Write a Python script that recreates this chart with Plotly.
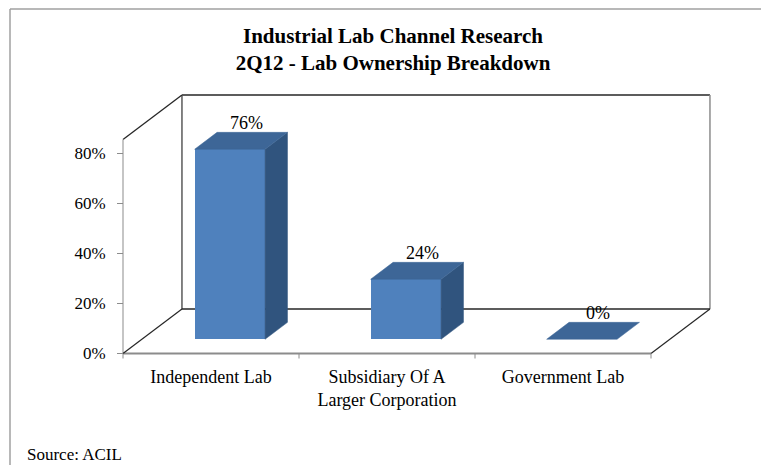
import plotly.graph_objects as go

# ---- data -------------------------------------------------------------
categories = ["Independent Lab", "Subsidiary Of A<br>Larger Corporation", "Government Lab"]
shares = [76, 24, 0]                      # percent of labs
y_ticks = [0, 20, 40, 60, 80]
y_tick_text = ["0%", "20%", "40%", "60%", "80%"]

# ---- pseudo-3D geometry (data units) ----------------------------------
W, H = 761, 465
PX_X = 176.0          # pixels per category unit
PX_Y = 2.5            # pixels per percent
DEPTH_X = 0.335       # depth vector, horizontal part (category units)
DEPTH_Y = 17.8        # depth vector, vertical part (percent units)
WALL = 85.6           # wall height (percent units)
BAR_W = 0.40          # bar width (category units)
D0, D1 = 0.32, 0.70   # bar front/back depth fractions
N = len(categories)

ML, MR, MT, MB = 118, 46, 93, 105
plot_w = W - ML - MR
plot_h = H - MT - MB
x_min = -5 / PX_X
x_max = x_min + plot_w / PX_X
y_max = WALL + DEPTH_Y + 2 / PX_Y
y_min = y_max - plot_h / PX_Y

FRONT = "#4F81BD"
TOP = "#3D6697"
SIDE = "#30547E"
DARK = "#262626"
GRAY = "#8C8C8C"
FONT = "Liberation Serif"

fig = go.Figure()

# front faces as real bars, shifted into the depth of the floor
centers = [i + 0.5 for i in range(N)]
fig.add_trace(go.Bar(
    x=[c + D0 * DEPTH_X for c in centers],
    y=shares,
    base=[D0 * DEPTH_Y] * N,
    width=BAR_W,
    marker=dict(color=FRONT, line=dict(width=0)),
    hoverinfo="skip",
    showlegend=False,
))

# side and top faces
for c, v in zip(centers, shares):
    l, r = c - BAR_W / 2, c + BAR_W / 2
    if v > 0:
        fig.add_trace(go.Scatter(
            x=[r + D0 * DEPTH_X, r + D1 * DEPTH_X, r + D1 * DEPTH_X, r + D0 * DEPTH_X, r + D0 * DEPTH_X],
            y=[D0 * DEPTH_Y, D1 * DEPTH_Y, v + D1 * DEPTH_Y, v + D0 * DEPTH_Y, D0 * DEPTH_Y],
            mode="lines", fill="toself", fillcolor=SIDE,
            line=dict(color=SIDE, width=0.5), hoverinfo="skip", showlegend=False,
        ))
    fig.add_trace(go.Scatter(
        x=[l + D0 * DEPTH_X, r + D0 * DEPTH_X, r + D1 * DEPTH_X, l + D1 * DEPTH_X, l + D0 * DEPTH_X],
        y=[v + D0 * DEPTH_Y, v + D0 * DEPTH_Y, v + D1 * DEPTH_Y, v + D1 * DEPTH_Y, v + D0 * DEPTH_Y],
        mode="lines", fill="toself", fillcolor=TOP,
        line=dict(color=TOP, width=0.5), hoverinfo="skip", showlegend=False,
    ))
    fig.add_annotation(
        x=c + 0.6 * DEPTH_X, y=v + 16.4, text=f"{v}%", showarrow=False,
        xanchor="center", yanchor="middle",
        font=dict(family=FONT, size=18, color="black"),
    )

# ---- walls and floor outline ------------------------------------------
def seg(x0, y0, x1, y1, color, width):
    fig.add_shape(type="line", x0=x0, y0=y0, x1=x1, y1=y1, xref="x", yref="y",
                  line=dict(color=color, width=width), layer="below")

bx, by = DEPTH_X, DEPTH_Y
# back wall
seg(bx, by + WALL, N + bx, by + WALL, DARK, 1.3)
seg(bx, by, bx, by + WALL, "#5a5a5a", 1.5)
seg(N + bx, by, N + bx, by + WALL, GRAY, 1.5)
seg(bx, by, N + bx, by, DARK, 1.3)
# left wall
seg(0, WALL, bx, by + WALL, DARK, 1.3)
seg(0, 0, 0, WALL, "#a6a6a6", 1.3)
# floor
seg(0, 0, N, 0, GRAY, 2)
seg(0, 0, bx, by, DARK, 1.2)
seg(N, 0, N + bx, by, DARK, 1.2)
# category boundary ticks
for k in range(N + 1):
    seg(k, 0, k, -2.0, GRAY, 1)

# outer chart border
def px_to_paper_x(px):
    return (px - ML) / plot_w

def px_to_paper_y(py):
    return 1 - (py - MT) / plot_h

fig.add_shape(type="line", xref="paper", yref="paper",
              x0=px_to_paper_x(10), y0=px_to_paper_y(9), x1=px_to_paper_x(W + 5), y1=px_to_paper_y(9),
              line=dict(color="#a0a0a0", width=1.5))
fig.add_shape(type="line", xref="paper", yref="paper",
              x0=px_to_paper_x(10), y0=px_to_paper_y(9), x1=px_to_paper_x(10), y1=px_to_paper_y(H + 5),
              line=dict(color="#a0a0a0", width=1.5))

# source note
fig.add_annotation(
    xref="paper", yref="paper", x=px_to_paper_x(25), y=px_to_paper_y(454),
    text="Source: ACIL", showarrow=False, xanchor="left", yanchor="middle",
    font=dict(family=FONT, size=17, color="black"),
)

fig.update_layout(
    width=W, height=H,
    margin=dict(l=ML, r=MR, t=MT, b=MB, pad=0),
    paper_bgcolor="white", plot_bgcolor="white",
    title=dict(
        text="<b>Industrial Lab Channel Research<br>2Q12 - Lab Ownership Breakdown</b>",
        x=393 / W, xanchor="center", y=1 - 43 / H, yanchor="middle",
        font=dict(family=FONT, size=21, color="black"),
    ),
    xaxis=dict(
        range=[x_min, x_max], showgrid=False, zeroline=False, showline=False,
        tickvals=centers, ticktext=categories, ticks="",
        ticklabelstandoff=4,
        tickfont=dict(family=FONT, size=18, color="black"),
    ),
    yaxis=dict(
        range=[y_min, y_max], showgrid=False, zeroline=False, showline=False,
        anchor="free", position=px_to_paper_x(123),
        tickvals=y_ticks, ticktext=y_tick_text,
        ticks="outside", ticklen=6, tickcolor=GRAY, tickwidth=1,
        ticklabelstandoff=8,
        tickfont=dict(family=FONT, size=17, color="black"),
    ),
    showlegend=False,
    bargap=0,
)

fig.write_html("out.html")
